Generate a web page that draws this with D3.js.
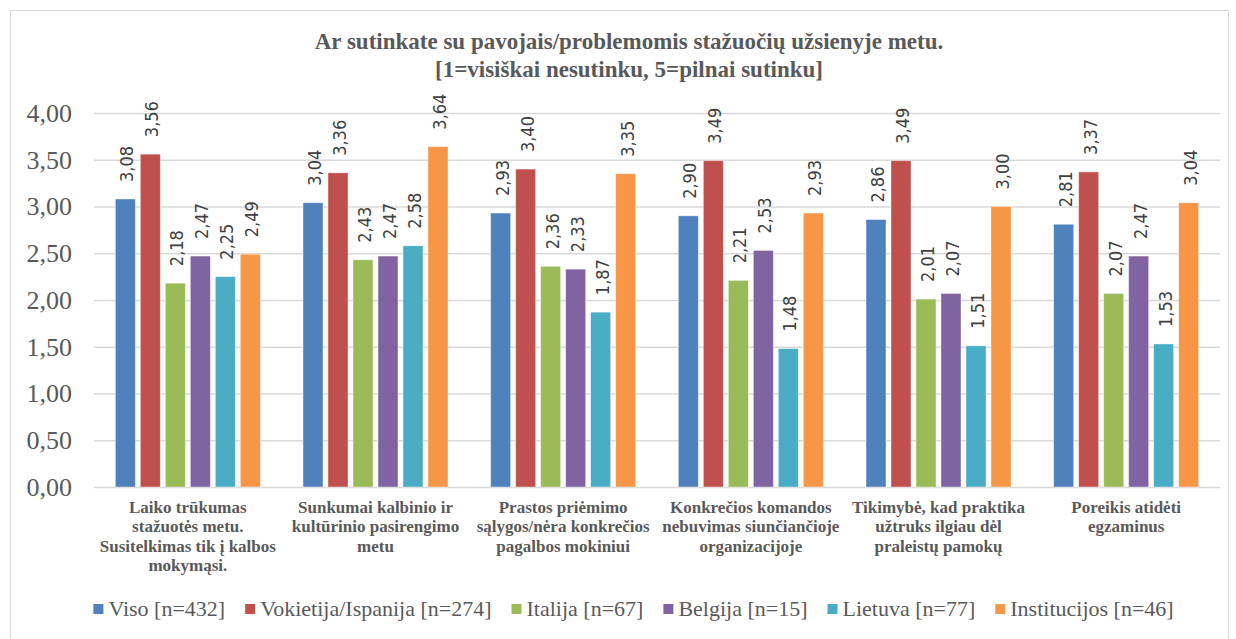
<!DOCTYPE html>
<html><head><meta charset="utf-8">
<script src="https://cdn.jsdelivr.net/npm/d3@7"></script>
<style>
html,body{margin:0;padding:0;background:#fff;}
svg{display:block;}
</style></head>
<body>
<svg id="chart" width="1236" height="639"></svg>
<script>
const titleLines = ["Ar sutinkate su pavojais/problemomis stažuočių užsienyje metu.", "[1=visiškai nesutinku, 5=pilnai sutinku]"];
const categories = [
  ["Laiko trūkumas", "stažuotės metu.", "Susitelkimas tik į kalbos", "mokymąsi."],
  ["Sunkumai kalbinio ir", "kultūrinio pasirengimo", "metu"],
  ["Prastos priėmimo", "sąlygos/nėra konkrečios", "pagalbos mokiniui"],
  ["Konkrečios komandos", "nebuvimas siunčiančioje", "organizacijoje"],
  ["Tikimybė, kad praktika", "užtruks ilgiau dėl", "praleistų pamokų"],
  ["Poreikis atidėti", "egzaminus"]
];
const seriesNames = ["Viso [n=432]", "Vokietija/Ispanija [n=274]", "Italija [n=67]", "Belgija [n=15]", "Lietuva [n=77]", "Institucijos [n=46]"];
const seriesColors = ["#4F81BD", "#C0504D", "#9BBB59", "#8064A2", "#4BACC6", "#F79646"];
const viso = [3.08, 3.04, 2.93, 2.90, 2.86, 2.81];
const vokietija = [3.56, 3.36, 3.40, 3.49, 3.49, 3.37];
const italija = [2.18, 2.43, 2.36, 2.21, 2.01, 2.07];
const belgija = [2.47, 2.47, 2.33, 2.53, 2.07, 2.47];
const lietuva = [2.25, 2.58, 1.87, 1.48, 1.51, 1.53];
const institucijos = [2.49, 3.64, 3.35, 2.93, 3.00, 3.04];
const yTicks = [0, 0.5, 1, 1.5, 2, 2.5, 3, 3.5, 4];

const seriesValues = [viso, vokietija, italija, belgija, lietuva, institucijos];
const fmt = v => v.toFixed(2).replace(".", ",");

const svg = d3.select("#chart");
const textColor = "#595959";
const serif = "'Liberation Serif', 'Times New Roman', serif";

// chart border
svg.append("rect").attr("x", 10.5).attr("y", 10.5).attr("width", 1218).attr("height", 640)
  .attr("fill", "#fff").attr("stroke", "#d9d9d9").attr("stroke-width", 1);

// title
svg.append("g").selectAll("text").data(titleLines).join("text")
  .attr("x", 629).attr("y", (d, i) => 49 + i * 28)
  .attr("text-anchor", "middle")
  .attr("font-family", serif).attr("font-weight", "bold").attr("font-size", 23)
  .attr("fill", textColor).text(d => d);

const plotLeft = 94, plotRight = 1220, plotTop = 113, plotBottom = 487;
const y = d3.scaleLinear().domain([0, 4]).range([plotBottom, plotTop]);
const catIdx = d3.range(categories.length);
const x0 = d3.scaleBand().domain(catIdx).range([plotLeft, plotRight]).padding(0);
const x1 = d3.scaleBand().domain(d3.range(seriesNames.length))
  .range([x0.bandwidth() / 2 - 72.5, x0.bandwidth() / 2 + 72.5]).paddingInner(0.2).paddingOuter(0);

// gridlines + y axis
const yAxis = d3.axisLeft(y).tickValues(yTicks).tickSize(-(plotRight - plotLeft)).tickFormat(fmt).tickPadding(22);
const ga = svg.append("g").attr("transform", `translate(${plotLeft},0)`).call(yAxis);
ga.attr("font-family", serif).attr("font-size", 26);
ga.select(".domain").remove();
ga.selectAll(".tick line").attr("stroke", "#d9d9d9").attr("stroke-width", 1.5);
ga.selectAll(".tick text").attr("font-family", serif).attr("font-size", 26).attr("fill", textColor);

// bars
const groups = svg.append("g").selectAll("g").data(catIdx).join("g")
  .attr("transform", c => `translate(${x0(c)},0)`);
groups.selectAll("rect").data(c => seriesValues.map((arr, s) => ({s, v: arr[c]}))).join("rect")
  .attr("x", d => x1(d.s)).attr("width", x1.bandwidth())
  .attr("y", d => y(d.v)).attr("height", d => y(0) - y(d.v))
  .attr("fill", d => seriesColors[d.s])
  .attr("stroke", "#ffffff").attr("stroke-opacity", 0.5).attr("stroke-width", 0.8);

// data labels
groups.selectAll("text").data(c => seriesValues.map((arr, s) => ({s, v: arr[c]}))).join("text")
  .attr("transform", d => `translate(${x1(d.s) + x1.bandwidth() / 2 + 1.5},${y(d.v) - 17}) rotate(-90)`)
  .attr("dominant-baseline", "central")
  .attr("font-family", "'Liberation Sans Narrow', 'DejaVu Sans Condensed', 'Liberation Sans', sans-serif")
  .attr("font-size", 18).attr("fill", "#404040")
  .text(d => fmt(d.v));

// category labels
const cl = svg.append("g").selectAll("text").data(catIdx).join("text")
  .attr("x", c => x0(c) + x0.bandwidth() / 2).attr("y", 513)
  .attr("text-anchor", "middle")
  .attr("font-family", serif).attr("font-weight", "bold").attr("font-size", 17)
  .attr("fill", textColor);
cl.selectAll("tspan").data(c => categories[c]).join("tspan")
  .attr("x", function() { return d3.select(this.parentNode).attr("x"); })
  .attr("dy", (d, i) => i === 0 ? 0 : 19.3)
  .text(d => d);

// legend
const lg = svg.append("g");
const items = lg.selectAll("g").data(seriesNames).join("g");
items.append("rect").attr("width", 10).attr("height", 10).attr("y", 604).attr("fill", (d, i) => seriesColors[i]);
items.append("text").attr("x", 15).attr("y", 616)
  .attr("font-family", serif).attr("font-size", 22).attr("fill", textColor).text(d => d);
let widths = [];
items.each(function() { widths.push(15 + d3.select(this).select("text").node().getComputedTextLength()); });
const gap = 20;
const total = d3.sum(widths) + gap * (widths.length - 1);
let cx = 633.5 - total / 2;
items.attr("transform", (d, i) => { const t = `translate(${cx},0)`; cx += widths[i] + gap; return t; });
</script>
</body></html>
